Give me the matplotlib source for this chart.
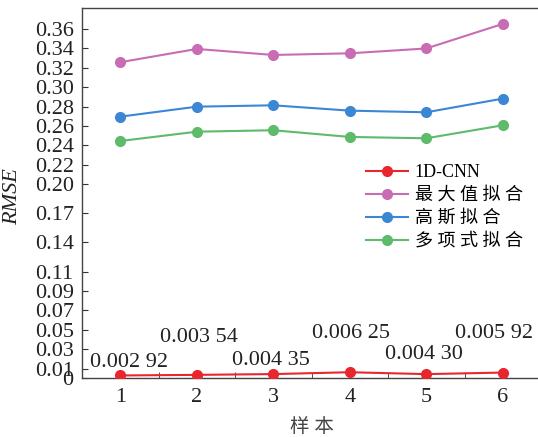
import numpy as np
import matplotlib
matplotlib.use('Agg')
import matplotlib.pyplot as plt

plt.rcParams['font.family'] = ['Liberation Serif', 'Noto Sans CJK SC']

# data
samples = [1, 2, 3, 4, 5, 6]
cnn = [0.00292, 0.00354, 0.00435, 0.00625, 0.00430, 0.00592]
max_fit = [0.3258, 0.3395, 0.3333, 0.3350, 0.3400, 0.3653]
gauss_fit = [0.2697, 0.2800, 0.2814, 0.2759, 0.2742, 0.2883]
poly_fit = [0.2446, 0.2542, 0.2557, 0.2488, 0.2474, 0.2608]
cnn_labels = ['0.002 92', '0.003 54', '0.004 35', '0.006 25', '0.004 30', '0.005 92']
series_names = ['1D-CNN', '最 大 值 拟 合', '高 斯 拟 合', '多 项 式 拟 合']
yticks = [0, 0.01, 0.03, 0.05, 0.07, 0.09, 0.11, 0.14, 0.17, 0.20,
          0.22, 0.24, 0.26, 0.28, 0.30, 0.32, 0.34, 0.36]

colors = ['#e8262e', '#c86cb4', '#3b87d4', '#5dbb6b']
# label offsets in points (dx, dy)
label_offsets = [(6, 9), (1.5, 27), (-1.5, 10), (0.7, 28), (-2, 14), (-6.5, 28)]

fig = plt.figure(figsize=(5.38, 4.37), dpi=100)
ax = fig.add_axes([82 / 538, 1 - 378.3 / 437, 459 / 538, 370 / 437])

all_series = [cnn, max_fit, gauss_fit, poly_fit]
for vals, c, name in zip(all_series, colors, series_names):
    ax.plot(samples, vals, color=c, lw=1.5, marker='o', ms=7,
            markeredgecolor=c, markerfacecolor=c, label=name, zorder=3)

for x, v, lab, off in zip(samples, cnn, cnn_labels, label_offsets):
    ax.annotate(lab, (x, v), xytext=off, textcoords='offset points',
                ha='center', va='center', fontsize=16, color='#222222')

ax.set_xlim(0.5, 6.5)
ax.set_ylim(0, 0.3814)
ax.set_xticks(samples)
ax.set_xticks([1.5, 2.5, 3.5, 4.5, 5.5], minor=True)
ax.set_yticks(yticks)
ax.set_yticklabels(['0' if t == 0 else '%.2f' % t for t in yticks])
ax.tick_params(axis='both', which='both', direction='in', labelsize=16,
               colors='#333333', labelcolor='#222222')
ax.tick_params(axis='x', which='major', length=0, pad=7)
ax.tick_params(axis='x', which='minor', length=4)
ax.tick_params(axis='y', which='major', length=4.5, pad=6)
ax.spines['right'].set_visible(False)
for s in ['left', 'top', 'bottom']:
    ax.spines[s].set_color('#444444')
    ax.spines[s].set_linewidth(1.0)

ax.set_ylabel('RMSE', fontstyle='italic', fontsize=16, color='#222222')
ax.set_xlabel('样 本', fontsize=14, color='#444444', labelpad=8)
ax.yaxis.set_label_coords(-0.13, 0.49)

fig.legend(loc='upper left', bbox_to_anchor=(366 / 538, 1 - 164 / 437),
           frameon=False, fontsize=13, handlelength=2.3, handletextpad=0.4,
           labelspacing=0.33, borderaxespad=0, borderpad=0)

fig.savefig('out.png', dpi=100)
